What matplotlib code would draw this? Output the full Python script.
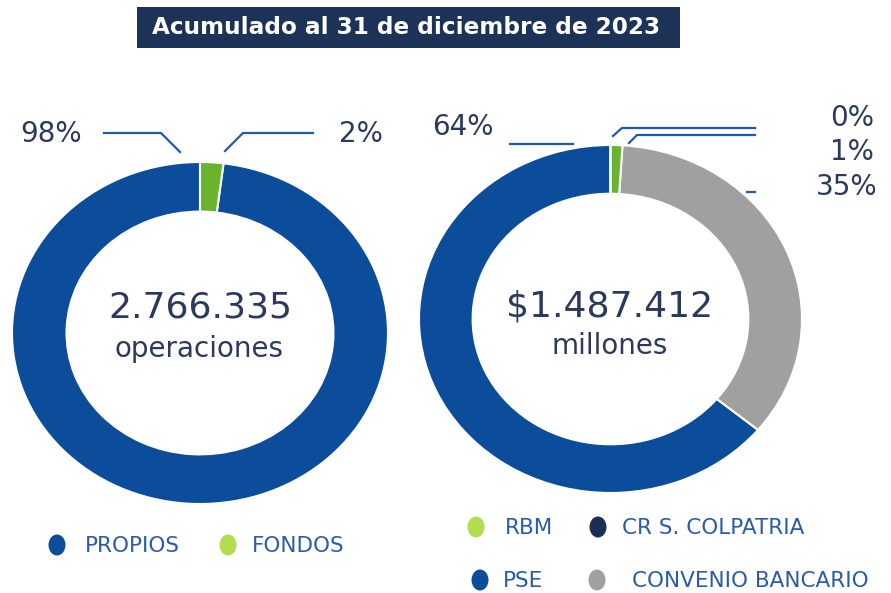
import matplotlib.pyplot as plt
from matplotlib.patches import Ellipse, Rectangle

plt.rcParams['font.family'] = ['DejaVu Sans']

# operaciones por canal
ops_labels = ['PROPIOS', 'FONDOS']
ops_values = [98, 2]
ops_total = '2.766.335'

# monto por canal (orden de dibujo, sentido antihorario desde arriba)
amt_labels = ['PSE', 'CONVENIO BANCARIO', 'RBM', 'CR S. COLPATRIA']
amt_values = [64, 35, 1, 0]
amt_total = '$1.487.412'

title = 'Acumulado al 31 de diciembre de 2023'

BLUE = '#0B4D9B'
GREEN = '#6AB42D'
GREEN_LIGHT = '#B2DD4F'
GRAY = '#A0A0A0'
NAVY = '#1B2F55'
TXT = '#2B3A5C'
LEG_TXT = '#2A5CA8'

fig = plt.figure(figsize=(8.91, 5.93), dpi=100)
W, H = 891, 593


def px_axes(x0, y0, x1, y1):
    return fig.add_axes([x0 / W, 1 - y1 / H, (x1 - x0) / W, (y1 - y0) / H])


def donut(ax, values, colors, width):
    ax.pie(values, colors=colors, startangle=90, counterclock=True, radius=1,
           wedgeprops=dict(width=width, edgecolor='white', linewidth=1.5))
    ax.set_aspect('auto')
    ax.set_xlim(-1, 1)
    ax.set_ylim(-1, 1)
    ax.axis('off')


ax1 = px_axes(12, 162, 388, 504)
donut(ax1, ops_values, [BLUE, GREEN], 0.29)

ax2 = px_axes(419, 145, 802, 493)
donut(ax2, amt_values, [BLUE, GRAY, GREEN, NAVY], 0.28)

# capa de anotaciones en pixeles
ov = fig.add_axes([0, 0, 1, 1], zorder=5)
ov.set_xlim(0, W)
ov.set_ylim(H, 0)
ov.axis('off')
ov.patch.set_alpha(0)

# encabezado
ov.add_patch(Rectangle((137, 7), 543, 41, facecolor='#1C3257', edgecolor='none'))
ov.text(406, 28, title, color='white', fontsize=16.7, fontweight='bold',
        ha='center', va='center')

# textos centrales
ov.text(200, 308, ops_total, color=TXT, fontsize=26, ha='center', va='center')
ov.text(199, 349, 'operaciones', color=TXT, fontsize=20, ha='center', va='center')
ov.text(610, 307, amt_total, color=TXT, fontsize=26, ha='center', va='center')
ov.text(610, 346, 'millones', color=TXT, fontsize=20, ha='center', va='center')

# etiquetas de porcentaje y lineas guia
lc = dict(color='#1F5BAA', lw=1.6)
pct = dict(color=TXT, fontsize=20, va='center')
ov.text(20, 134, f'{ops_values[0]}%', ha='left', **pct)
ov.plot([104, 161, 180], [133, 133, 152], **lc)
ov.text(383, 134, f'{ops_values[1]}%', ha='right', **pct)
ov.plot([313, 243, 225], [133, 133, 151], **lc)

ov.text(432, 127, f'{amt_values[0]}%', ha='left', **pct)
ov.plot([510, 573], [144, 144], **lc)
ov.text(874, 118, f'{amt_values[3]}%', ha='right', **pct)
ov.plot([755, 622, 613], [128, 128, 136], **lc)
ov.text(874, 152, f'{amt_values[2]}%', ha='right', **pct)
ov.plot([755, 637, 629], [135, 135, 143], **lc)
ov.text(878, 187, f'{amt_values[1]}%', ha='right', **pct)
ov.plot([747, 755], [192, 192], **lc)

# leyendas
legend_items = [
    (57, 545, BLUE, ops_labels[0], 85),
    (228, 545, GREEN_LIGHT, ops_labels[1], 252),
    (476, 527, GREEN_LIGHT, amt_labels[2], 505),
    (598, 527, NAVY, amt_labels[3], 622),
    (480, 580, BLUE, amt_labels[0], 503),
    (597, 580, GRAY, amt_labels[1], 632),
]
for cx, cy, col, lab, tx in legend_items:
    ov.add_patch(Ellipse((cx, cy), 17, 21, facecolor=col, edgecolor='none'))
    ov.text(tx, cy + 1, lab, color=LEG_TXT, fontsize=15.5, ha='left', va='center')

fig.savefig('out.png', dpi=100)
